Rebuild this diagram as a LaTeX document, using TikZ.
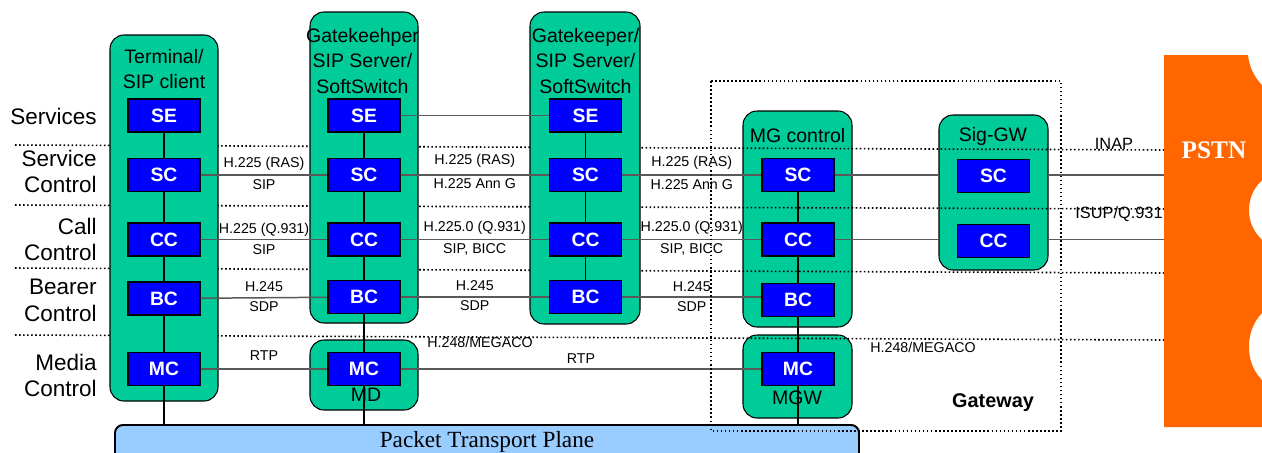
\documentclass[tikz,border=0pt]{standalone}
\usepackage{fontspec}
\setmainfont{Liberation Sans}
\newfontfamily\timesfont{Liberation Serif}
\usepackage{tikz}
\usepackage{xcolor}

\definecolor{unitgreen}{HTML}{00CC99}
\definecolor{fnblue}{HTML}{0000FF}
\definecolor{pstnorange}{HTML}{FF6600}
\definecolor{planeblue}{HTML}{99CCFF}

\pgfdeclarelayer{boxes}
\pgfdeclarelayer{wires}
\pgfsetlayers{boxes,wires,main}

\tikzset{
  func/.style={draw=black, fill=fnblue, text=white, line width=0.6pt,
    font=\fontsize{11}{13}\selectfont\bfseries,
    minimum width=14.4mm, minimum height=6.6mm, inner sep=0pt},
  unit/.style={draw=black, fill=unitgreen, line width=0.6pt, rounded corners=2.8mm},
  title/.style={align=center, inner sep=0pt, font=\fontsize{11.1}{14.4}\selectfont},
  rowname/.style={align=right, anchor=east, inner sep=0pt, font=\fontsize{12.8}{15.3}\selectfont},
  proto/.style={inner sep=1pt, text height=6.2pt, text depth=1.7pt, font=\fontsize{8.1}{9}\selectfont},
  sigproto/.style={inner sep=0pt, font=\fontsize{9.3}{11}\selectfont},
  layerline/.style={line width=0.9pt, dash pattern=on 0.9pt off 1.4pt},
  link/.style={draw=black!65, line width=0.85pt},
  stack/.style={line width=1.1pt}
}

\begin{document}
\begin{tikzpicture}[x=0.2mm, y=-0.2mm]
    \useasboundingbox (0,0) rectangle (1262,452);

    % Terminal / SIP client
    \node[func] (tSE) at (164,115.5) {SE};
    \node[func] (tSC) at (164,175) {SC};
    \node[func] (tCC) at (164,239.5) {CC};
    \node[func] (tBC) at (164,298.5) {BC};
    \node[func] (tMC) at (164,369) {MC};

    % Gatekeehper SIP Server
    \node[func] (gaSE) at (364,115.5) {SE};
    \node[func] (gaSC) at (364,175) {SC};
    \node[func] (gaCC) at (364,239.5) {CC};
    \node[func] (gaBC) at (364,297) {BC};
    \node[func] (gaMC) at (364,369) {MC};

    % Gatekeeper SIP Server
    \node[func] (gbSE) at (585.5,115.5) {SE};
    \node[func] (gbSC) at (585.5,175) {SC};
    \node[func] (gbCC) at (585.5,239.5) {CC};
    \node[func] (gbBC) at (585.5,297) {BC};

    % MG control / MGW
    \node[func] (mgSC) at (798,175) {SC};
    \node[func] (mgCC) at (798,239.5) {CC};
    \node[func] (mgBC) at (798,300) {BC};
    \node[func] (mgMC) at (798,369) {MC};

    % Sig-GW
    \node[func] (sgSC) at (993.5,176) {SC};
    \node[func] (sgCC) at (993.5,241) {CC};

    % Packet transport plane
    \node[draw=black, fill=planeblue, line width=1.1pt, rounded corners=1.6mm,
      anchor=north west, minimum width=148.8mm, inner sep=0pt,
      text height=12.9pt, text depth=14pt,
      font=\timesfont\fontsize{13.2}{15}\selectfont] (plane) at (114,424) {Packet Transport Plane};

    \coordinate (sgWest) at (939,0);
    \coordinate (sgEast) at (1048,0);
    \coordinate (pstn) at (1164,0);

    % Boxes and layer lines
    \begin{pgfonlayer}{boxes}
    \draw[unit] (743,111) rectangle (852,327);
    \draw[unit] (743,335) rectangle (852,418);
    \draw[unit] (939,115) rectangle (1048,270);
    \draw[layerline] (15,145) -- (1164,150);
    \draw[layerline] (15,205) -- (1164,209);
    \draw[layerline] (15,268) -- (1164,273);
    \draw[layerline] (15,335) -- (1164,340);
    \draw[unit] (110,35) rectangle (218,401);
    \draw[unit] (310,12) rectangle (418,323);
    \draw[unit] (310,340) rectangle (418,410);
    \draw[unit] (530,12) rectangle (640,324);
    \node[title] (tTitle) at (164,69) {Terminal/\\SIP client};
    \node[title] (gaTitle) at (362.5,61) {Gatekeehper\\SIP Server/\\SoftSwitch};
    \node[title] (gbTitle) at (585.5,61) {Gatekeeper/\\SIP Server/\\SoftSwitch};
    \node[title] (mgTitle) at (797.5,136) {MG control};
    \node[title] (sgTitle) at (993,136) {Sig-GW};
    \node[title] (mdName) at (366,395) {MD};
    \node[title] (mgwName) at (797,397.5) {MGW};
    \end{pgfonlayer}

    % Connections
    \begin{pgfonlayer}{wires}
    \draw[stack] (tSE) -- (tSC) -- (tCC) -- (tBC) -- (tMC) -- (tMC |- plane.north);
    \draw[stack] (gaSE) -- (gaSC) -- (gaCC) -- (gaBC) -- (gaMC) -- (gaMC |- plane.north);
    \draw[stack] (gbSE) -- (gbSC) -- (gbCC) -- (gbBC);
    \draw[stack] (mgSC) -- (mgCC) -- (mgBC) -- (mgMC) -- (mgMC |- plane.north);

    \draw[link] (gaSE) -- (gbSE);
    \draw[link] (tSC) -- node[proto, above=1.2pt] (p1) {H.225 (RAS)} node[proto, below=0.7pt] (p2) {SIP} (gaSC);
    \draw[link] (gaSC) -- node[proto, above=2.6pt] (p3) {H.225 (RAS)} node[proto, below=0.2pt] (p4) {H.225 Ann G} (gbSC);
    \draw[link] (gbSC) -- node[proto, above=1.8pt] (p5) {H.225 (RAS)} node[proto, below=0.7pt] (p6) {H.225 Ann G} (mgSC);
    \draw[link] (mgSC) -- (mgSC -| sgWest);
    \draw[link] (sgEast |- mgSC) -- (pstn |- mgSC);

    \draw[link] (tCC) -- node[proto, above=0.2pt] (p7) {H.225 (Q.931)} node[proto, below=0.8pt] (p8) {SIP} (gaCC);
    \draw[link] (gaCC) -- node[proto, above=1.4pt] (p9) {H.225.0 (Q.931)} node[proto, below=0.2pt] (p10) {SIP, BICC} (gbCC);
    \draw[link] (gbCC) -- node[proto, above=1.4pt] (p11) {H.225.0 (Q.931)} node[proto, below=0.6pt] (p12) {SIP, BICC} (mgCC);
    \draw[link] (mgCC) -- (mgCC -| sgWest);
    \draw[link] (sgEast |- mgCC) -- (pstn |- mgCC);

    \draw[link] (tBC) -- node[proto, above=0.6pt] (p13) {H.245} node[proto, below=0.2pt] (p14) {SDP} (gaBC);
    \draw[link] (gaBC) -- node[proto, above=0.6pt] (p15) {H.245} node[proto, below=0.2pt] (p16) {SDP} (gbBC);
    \draw[link] (gbBC) -- node[proto, above=0.2pt] (p17) {H.245} node[proto, below=0.6pt] (p18) {SDP} (gbBC -| mgBC.west);

    \draw[link] (tMC) -- node[proto, above=1.8pt] (p19) {RTP} (gaMC);
    \draw[link] (gaMC) -- node[proto, above=0pt] (p20) {RTP} (mgMC);
    \end{pgfonlayer}

    % Free labels
    \node[proto] (megA) at (480,344) {H.248/MEGACO};
    \node[proto] (megB) at (923,349) {H.248/MEGACO};
    \node[sigproto] (inap) at (1114,144) {INAP};
    \node[sigproto] (isup) at (1119,214.5) {ISUP/Q.931};

    % Row names
    \node[rowname] (rSE) at (97,116.5) {Services};
    \node[rowname] (rSC) at (97,171.5) {Service\\Control};
    \node[rowname] (rCC) at (97,239.5) {Call\\Control};
    \node[rowname] (rBC) at (97,300) {Bearer\\Control};
    \node[rowname] (rMC) at (97,375.5) {Media\\Control};

    % Gateway
    \draw[layerline] (711,81) rectangle (1061,431);
    \node[font=\fontsize{11.3}{13}\selectfont\bfseries] (gw) at (993,403) {Gateway};

    % PSTN
    \fill[pstnorange] (1164,55) -- (1248,55)
      .. controls (1250,75) and (1262,88) .. (1280,100) -- (1280,168)
      .. controls (1256,180) and (1249,195) .. (1249,210)
      .. controls (1249,225) and (1256,240) .. (1280,252) -- (1280,300)
      .. controls (1256,312) and (1249,330) .. (1249,347)
      .. controls (1249,364) and (1256,380) .. (1280,394) -- (1280,427) -- (1164,427) -- cycle;
    \node[text=white, font=\timesfont\fontsize{14.4}{16}\selectfont\bfseries] (pstnName) at (1214,150) {PSTN};
\end{tikzpicture}
\end{document}
